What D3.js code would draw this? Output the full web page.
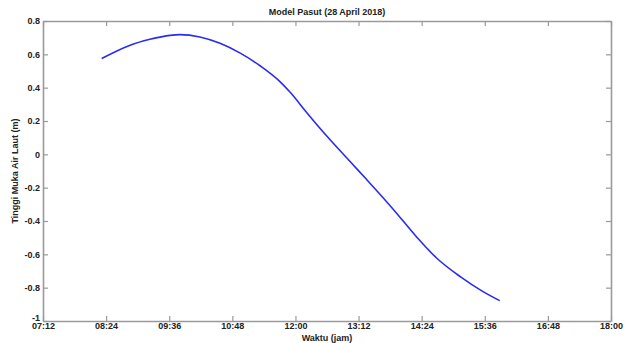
<!DOCTYPE html>
<html>
<head>
<meta charset="utf-8">
<script src="https://cdn.jsdelivr.net/npm/d3@7"></script>
<style>
  body { margin: 0; background: #fff; }
  text { font-family: "Liberation Sans", Arial, sans-serif; }
</style>
</head>
<body>
<div id="chart"></div>
<script>
// Tide model values
var times = ["08:19", "08:50", "09:14", "09:37", "09:48", "10:11", "10:34", "10:57", "11:20", "11:42",
  "11:54", "12:13", "12:36", "13:06", "13:21", "13:51", "14:18", "14:41", "15:08", "15:34", "15:53"];
var heights = [0.575, 0.652, 0.690, 0.714, 0.718, 0.704, 0.666, 0.607, 0.530, 0.438,
  0.372, 0.250, 0.108, -0.064, -0.150, -0.326, -0.494, -0.622, -0.734, -0.824, -0.878];
var xTickLabels = ["07:12", "08:24", "09:36", "10:48", "12:00", "13:12", "14:24", "15:36", "16:48", "18:00"];
var yTicks = [-1, -0.8, -0.6, -0.4, -0.2, 0, 0.2, 0.4, 0.6, 0.8];

var svgWidth = 629;
var svgHeight = 343;
var margin = { top: 21, right: 18, bottom: 22, left: 43 };
var width = svgWidth - margin.left - margin.right;
var height = svgHeight - margin.top - margin.bottom;

var parseTime = d3.timeParse("%Y-%m-%d %H:%M");
var day = "2018-04-28 ";

var data = times.map(function (t, i) {
  return { time: parseTime(day + t), value: heights[i] };
});
var xTicks = xTickLabels.map(function (t) { return parseTime(day + t); });

var svg = d3.select("#chart")
  .append("svg")
  .attr("width", svgWidth)
  .attr("height", svgHeight);

var chartGroup = svg.append("g")
  .attr("transform", `translate(${margin.left}, ${margin.top})`);

var xScale = d3.scaleTime()
  .domain([xTicks[0], xTicks[xTicks.length - 1]])
  .range([0, width]);

var yScale = d3.scaleLinear()
  .domain([-1, 0.8])
  .range([height, 0]);

var fmt = d3.timeFormat("%H:%M");

// Axes, MATLAB style with ticks pointing inward
var bottomAxis = d3.axisBottom(xScale).tickValues(xTicks).tickFormat(fmt).tickSizeInner(-5).tickSizeOuter(0).tickPadding(2);
var topAxis = d3.axisTop(xScale).tickValues(xTicks).tickFormat("").tickSizeInner(-5).tickSizeOuter(0);
var leftAxis = d3.axisLeft(yScale).tickValues(yTicks).tickFormat(d => String(d)).tickSizeInner(-5).tickSizeOuter(0).tickPadding(3);
var rightAxis = d3.axisRight(yScale).tickValues(yTicks).tickFormat("").tickSizeInner(-5).tickSizeOuter(0);

var gTop = chartGroup.append("g").call(topAxis);
var gRight = chartGroup.append("g").attr("transform", `translate(${width}, 0)`).call(rightAxis);
var gBottom = chartGroup.append("g").attr("transform", `translate(0, ${height})`).call(bottomAxis);
var gLeft = chartGroup.append("g").call(leftAxis);

[gTop, gRight, gBottom, gLeft].forEach(function (g) {
  g.select(".domain").attr("stroke", "#9a9a9a").attr("stroke-width", 1.6);
  g.selectAll(".tick line").attr("stroke", "#9a9a9a").attr("stroke-width", 1.2);
  g.selectAll(".tick text").attr("fill", "#222").style("font-size", "9px").style("font-weight", "bold");
});

// MATLAB draws the bottom "-1" nudged up
gLeft.selectAll(".tick text").filter(function (d) { return d === -1; }).attr("dy", "-0.1em");

// Tide line
var line = d3.line()
  .x(d => xScale(d.time))
  .y(d => yScale(d.value))
  .curve(d3.curveMonotoneX);

chartGroup.append("path")
  .datum(data)
  .attr("fill", "none")
  .attr("stroke", "#2a2af5")
  .attr("stroke-width", 1.6)
  .attr("d", line);

// Title and axis labels
chartGroup.append("text")
  .attr("x", width / 2)
  .attr("y", -6)
  .attr("text-anchor", "middle")
  .style("font-size", "9px")
  .style("font-weight", "bold")
  .attr("fill", "#222")
  .text("Model Pasut (28 April 2018)");

chartGroup.append("text")
  .attr("x", width / 2)
  .attr("y", height + 20)
  .attr("text-anchor", "middle")
  .style("font-size", "9px")
  .style("font-weight", "bold")
  .attr("fill", "#222")
  .text("Waktu (jam)");

chartGroup.append("text")
  .attr("transform", "rotate(-90)")
  .attr("x", -height / 2)
  .attr("y", -25)
  .attr("text-anchor", "middle")
  .style("font-size", "9px")
  .style("font-weight", "bold")
  .attr("fill", "#222")
  .text("Tinggi Muka Air Laut (m)");
</script>
</body>
</html>
